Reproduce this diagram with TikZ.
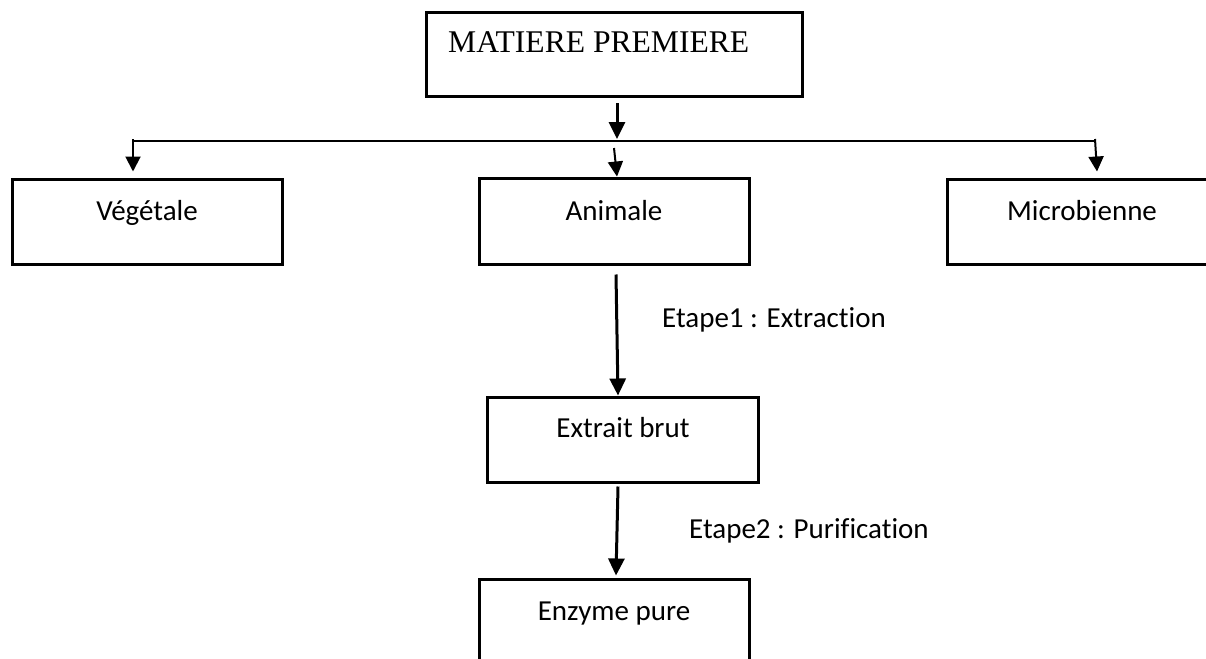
\documentclass[tikz,border=0pt]{standalone}
\usepackage{fontspec}
\setmainfont{Liberation Serif}
\newfontfamily\calfont[Ligatures=NoCommon]{Carlito}
\usetikzlibrary{arrows.meta}
\tikzset{
  box/.style={draw, line width=3pt, rectangle, inner sep=0pt},
  lbl/.style={inner sep=0pt, font=\calfont\fontsize{29}{34}\selectfont},
  ttl/.style={inner sep=0pt, font=\fontsize{31.6}{36}\selectfont},
  arrbig/.style={line width=3pt, -{Triangle[width=16pt,length=17pt]}},
  arrsmall/.style={line width=2pt, -{Triangle[width=15pt,length=15pt]}},
  hline/.style={line width=1.2pt}
}
\begin{document}
\begin{tikzpicture}[x=1pt,y=-1pt]
\path[use as bounding box] (0,0) rectangle (1206,658);
\begin{scope}
\clip (0,0) rectangle (1206,658);
% boxes
\node[box, minimum width=376pt, minimum height=84pt] (top) at (614,55) {};
\node[box, minimum width=270pt, minimum height=85pt] (veg) at (147,221.5) {};
\node[box, minimum width=270pt, minimum height=86pt] (ani) at (614,221) {};
\node[box, minimum width=273pt, minimum height=85pt] (mic) at (1083.5,221.5) {};
\node[box, minimum width=271pt, minimum height=85pt] (ext) at (622.5,439.5) {};
\node[box, minimum width=270pt, minimum height=85pt] (enz) at (614,621.5) {};
% texts
\node[ttl, anchor=base west] (ttop) at (448,53) {MATIERE PREMIERE};
\node[lbl, anchor=base] (tveg) at (147,220) {Végétale};
\node[lbl, anchor=base] (tani) at (614,220) {Animale};
\node[lbl, anchor=base] (tmic) at (1082,220) {Microbienne};
\node[lbl, anchor=base] (text) at (623,437) {Extrait brut};
\node[lbl, anchor=base] (tenz) at (614,620) {Enzyme pure};
\node[lbl, anchor=base west] (e1) at (662,327) {Etape1 : Extraction};
\node[lbl, anchor=base west] (e2) at (689,538) {Etape2 : Purification};
% connectors
\coordinate (hl) at (133,141);
\coordinate (j) at (617,141);
\coordinate (hr) at (1095,141);
\draw[hline] (hl) -- (hr);
\draw[arrbig] ([xshift=3pt,yshift=-5pt]top.south) -- ([yshift=2pt]j);
\draw[arrsmall] ([yshift=2pt]hl) -- ([yshift=6pt]veg.north -| hl);
\draw[arrsmall] ([xshift=-3pt,yshift=-7pt]j) -- (ani.north -| j);
\draw[arrsmall] ([yshift=2pt]hr) -- ([xshift=2pt,yshift=6pt]mic.north -| hr);
\draw[arrbig] ([xshift=2pt,yshift=-9pt]ani.south) -- ([xshift=-4.5pt]ext.north);
\draw[arrbig] ([xshift=-4.5pt,yshift=-3pt]ext.south) -- ([xshift=2pt,yshift=2pt]enz.north);
\end{scope}
\end{tikzpicture}
\end{document}
